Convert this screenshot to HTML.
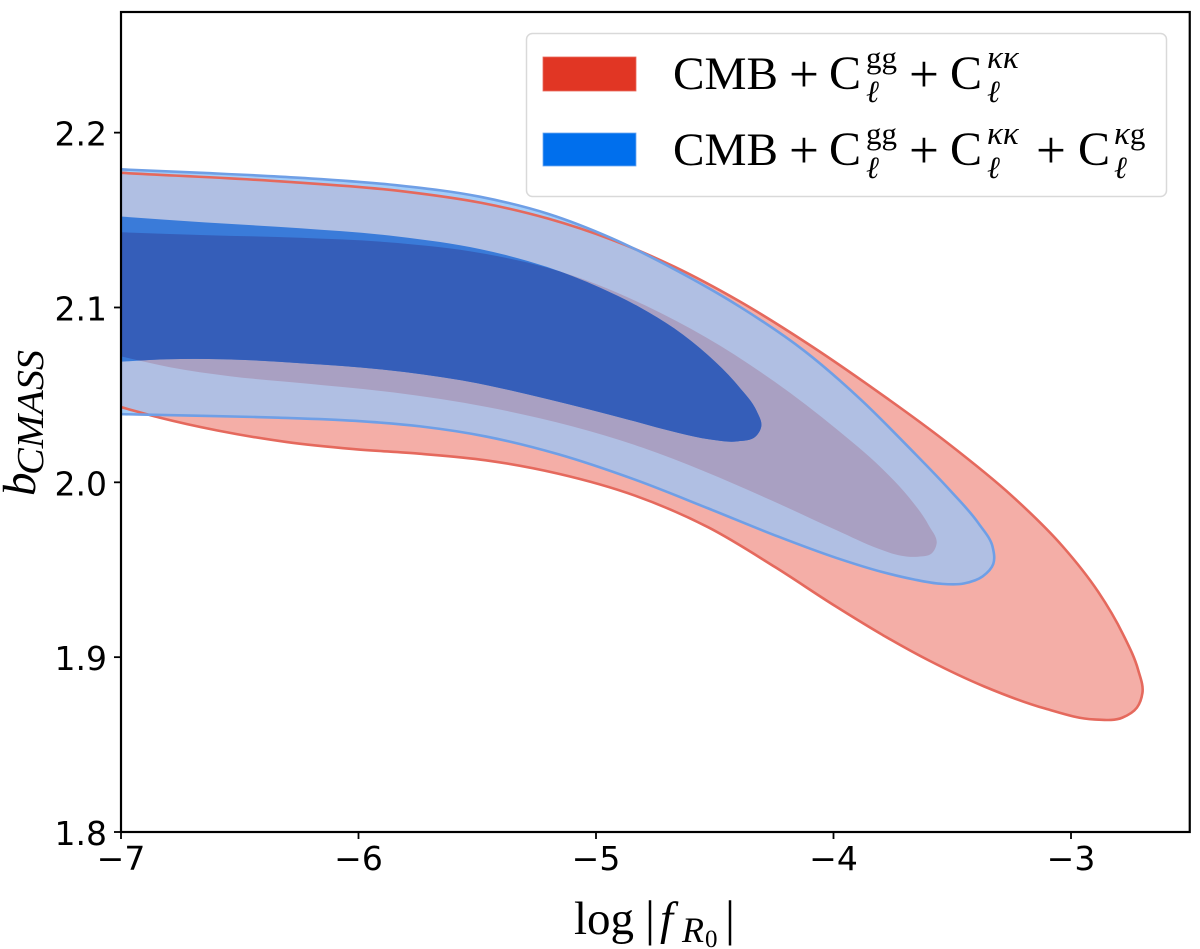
<!DOCTYPE html>
<html lang="en">
<head>
<meta charset="utf-8">
<title>Constraints on log f_R0 and b_CMASS</title>
<style>
  html, body { margin: 0; padding: 0; background: #fff; }
  svg { display: block; }
  .tick { font-family: "DejaVu Sans", "Liberation Sans", sans-serif; font-size: 33px; fill: #000; }
  .tex { font-family: "Liberation Serif", "DejaVu Serif", serif; fill: #000; }
  .it { font-style: italic; }
</style>
</head>
<body>
<svg id="chart" xmlns="http://www.w3.org/2000/svg" width="1200" height="949" viewBox="0 0 1200 949">
  <defs id="defs"></defs>
  <g id="contours"></g>
  <g id="axes"></g>

  <g>
    <rect x="526.5" y="33.5" width="640" height="163" rx="6" fill="#fff" fill-opacity="0.9" stroke="#d9d9d9" stroke-width="1.5"/>
    <rect x="543" y="57" width="93" height="34" fill="#e13624" stroke="#e86a5c" stroke-width="0.8"/>
    <rect x="543" y="133" width="93" height="33" fill="#006fed" stroke="#6fa8f0" stroke-width="0.8"/>

    <g class="tex">
      <text font-size="47" x="673" y="89" textLength="105" lengthAdjust="spacingAndGlyphs">CMB</text>
      <text font-size="53" x="789" y="92">+</text>
      <text font-size="48" x="829" y="89">C</text>
      <text font-size="31" x="866" y="68">gg</text>
      <text font-size="31" x="866" y="102" class="it">ℓ</text>
      <text font-size="53" x="909" y="92">+</text>
      <text font-size="48" x="950" y="89">C</text>
      <text font-size="33" x="987" y="68" class="it">κκ</text>
      <text font-size="31" x="987" y="102" class="it">ℓ</text>
    </g>
    <g class="tex">
      <text font-size="47" x="673" y="165" textLength="105" lengthAdjust="spacingAndGlyphs">CMB</text>
      <text font-size="53" x="789" y="168">+</text>
      <text font-size="48" x="829" y="165">C</text>
      <text font-size="31" x="866" y="144">gg</text>
      <text font-size="31" x="866" y="178" class="it">ℓ</text>
      <text font-size="53" x="909" y="168">+</text>
      <text font-size="48" x="950" y="165">C</text>
      <text font-size="33" x="987" y="144" class="it">κκ</text>
      <text font-size="31" x="987" y="178" class="it">ℓ</text>
      <text font-size="53" x="1036" y="168">+</text>
      <text font-size="48" x="1078" y="165">C</text>
      <text font-size="31" x="1114" y="144"><tspan class="it" font-size="33">κ</tspan>g</text>
      <text font-size="31" x="1114" y="178" class="it">ℓ</text>
    </g>
  </g>

  <g class="tex">
    <text font-size="47" x="574" y="934">log</text>
    <text font-size="50" x="645" y="935">|</text>
    <text font-size="47" x="660" y="934" class="it">f</text>
    <text font-size="36" x="682" y="942" class="it">R</text>
    <text font-size="25" x="705" y="947">0</text>
    <text font-size="50" x="725" y="935">|</text>
  </g>
  <g class="tex">
    <text font-size="47" class="it" transform="translate(35 496) rotate(-90)">b</text>
    <text font-size="38" class="it" textLength="125" lengthAdjust="spacingAndGlyphs" transform="translate(43 475) rotate(-90)">CMASS</text>
  </g>
</svg>

<script>
// Tick labels
const xTickValues = [-7, -6, -5, -4, -3];
const yTickValues = [1.8, 1.9, 2.0, 2.1, 2.2];
const xDomain = [-7, -2.5];
const yDomain = [1.8, 2.269];

// Red series (CMB + Cgg + Ckk), 2-sigma contour
const redOuterLogF = [-7, -6.246, -5.825, -5.488, -5.206, -4.928, -4.676, -4.394, -4.112, -3.834, -3.522, -3.244, -3.034, -2.891, -2.781, -2.718, -2.701, -2.722, -2.794, -2.891, -3.101, -3.383, -3.594, -3.804, -3.973, -4.255, -4.533, -4.815, -5.181, -5.459, -5.741, -6.023, -6.301, -6.583, -6.865, -7];
const redOuterBias = [2.177, 2.172, 2.166, 2.160, 2.151, 2.138, 2.124, 2.103, 2.080, 2.053, 2.023, 1.992, 1.963, 1.938, 1.914, 1.891, 1.881, 1.871, 1.866, 1.864, 1.870, 1.884, 1.898, 1.914, 1.927, 1.952, 1.975, 1.992, 2.005, 2.013, 2.016, 2.019, 2.023, 2.029, 2.038, 2.043];

// Red series, 1-sigma contour
const redInnerLogF = [-7, -6.667, -6.246, -5.825, -5.488, -5.206, -4.983, -4.815, -4.533, -4.255, -3.973, -3.804, -3.691, -3.594, -3.568, -3.585, -3.644, -3.733, -3.804, -3.973, -4.255, -4.562, -4.815, -5.067, -5.488, -5.825, -6.246, -6.528, -6.806, -7];
const redInnerBias = [2.143, 2.141, 2.140, 2.137, 2.131, 2.123, 2.112, 2.102, 2.083, 2.059, 2.028, 2.009, 1.993, 1.974, 1.965, 1.960, 1.957, 1.959, 1.962, 1.971, 1.990, 2.007, 2.020, 2.031, 2.044, 2.051, 2.057, 2.060, 2.066, 2.072];

// Blue series (CMB + Cgg + Ckk + Ckg), 2-sigma contour
const blueOuterLogF = [-7, -6.667, -6.246, -5.825, -5.488, -5.206, -4.928, -4.676, -4.394, -4.112, -3.901, -3.665, -3.522, -3.383, -3.333, -3.328, -3.371, -3.455, -3.552, -3.665, -3.804, -3.973, -4.255, -4.533, -4.815, -5.181, -5.459, -5.741, -6.023, -6.301, -6.722, -7];
const blueOuterBias = [2.179, 2.177, 2.174, 2.170, 2.163, 2.154, 2.139, 2.122, 2.100, 2.075, 2.049, 2.017, 1.997, 1.976, 1.963, 1.954, 1.946, 1.942, 1.942, 1.945, 1.949, 1.956, 1.970, 1.985, 2.001, 2.017, 2.026, 2.032, 2.035, 2.037, 2.038, 2.039];

// Blue series, 1-sigma contour
const blueInnerLogF = [-7, -6.667, -6.246, -5.825, -5.488, -5.206, -4.983, -4.815, -4.676, -4.533, -4.394, -4.322, -4.309, -4.331, -4.394, -4.533, -4.676, -4.815, -5.206, -5.627, -5.825, -6.246, -6.596, -6.794, -7];
const blueInnerBias = [2.152, 2.148, 2.146, 2.140, 2.134, 2.123, 2.111, 2.100, 2.088, 2.074, 2.054, 2.040, 2.033, 2.026, 2.023, 2.025, 2.029, 2.034, 2.048, 2.060, 2.063, 2.068, 2.071, 2.070, 2.069];

const NS = 'http://www.w3.org/2000/svg';
const plot = { left: 121, right: 1189.75, top: 12, bottom: 832 };

function xScale(v) {
  return plot.left + (v - xDomain[0]) / (xDomain[1] - xDomain[0]) * (plot.right - plot.left);
}
function yScale(v) {
  return plot.bottom - (v - yDomain[0]) / (yDomain[1] - yDomain[0]) * (plot.bottom - plot.top);
}

// One Laplacian relaxation step over screen points; endpoints stay fixed
function relax(p, k) {
  return p.map(function (pt, i) {
    if (i === 0 || i === p.length - 1) return pt;
    return [
      pt[0] + k * ((p[i - 1][0] + p[i + 1][0]) / 2 - pt[0]),
      pt[1] + k * ((p[i - 1][1] + p[i + 1][1]) / 2 - pt[1])
    ];
  });
}

// Smooth spline through the contour samples (Bessel tangents)
function smoothPath(xs, ys) {
  let p = xs.map(function (x, i) { return [xScale(x), yScale(ys[i])]; });
  for (let pass = 0; pass < 2; pass++) {
    p = relax(relax(p, 0.5), -0.52);
  }
  const n = p.length;
  const tangents = p.map(function (pt, i) {
    if (i === 0 || i === n - 1) {
      const q = i === 0 ? p[1] : p[n - 2];
      const sx = i === 0 ? q[0] - pt[0] : pt[0] - q[0];
      const sy = i === 0 ? q[1] - pt[1] : pt[1] - q[1];
      const l = Math.hypot(sx, sy) || 1;
      return [sx / l, sy / l];
    }
    const a = p[i - 1];
    const c = p[i + 1];
    const h1 = Math.hypot(pt[0] - a[0], pt[1] - a[1]) || 1;
    const h2 = Math.hypot(c[0] - pt[0], c[1] - pt[1]) || 1;
    const tx = (pt[0] - a[0]) / h1 * h2 + (c[0] - pt[0]) / h2 * h1;
    const ty = (pt[1] - a[1]) / h1 * h2 + (c[1] - pt[1]) / h2 * h1;
    const len = Math.hypot(tx, ty) || 1;
    return [tx / len, ty / len];
  });
  let d = 'M' + p[0][0].toFixed(2) + ' ' + p[0][1].toFixed(2);
  for (let i = 0; i < n - 1; i++) {
    const b = p[i];
    const c = p[i + 1];
    const h = Math.hypot(c[0] - b[0], c[1] - b[1]) / 3;
    const c1x = b[0] + tangents[i][0] * h;
    const c1y = b[1] + tangents[i][1] * h;
    const c2x = c[0] - tangents[i + 1][0] * h;
    const c2y = c[1] - tangents[i + 1][1] * h;
    d += 'C' + c1x.toFixed(2) + ' ' + c1y.toFixed(2) + ' ' + c2x.toFixed(2) + ' ' + c2y.toFixed(2) + ' ' + c[0].toFixed(2) + ' ' + c[1].toFixed(2);
  }
  return d;
}

const redOuterD = smoothPath(redOuterLogF, redOuterBias);
const redInnerD = smoothPath(redInnerLogF, redInnerBias);
const blueOuterD = smoothPath(blueOuterLogF, blueOuterBias);
const blueInnerD = smoothPath(blueInnerLogF, blueInnerBias);

const defs = document.getElementById('defs');
const layer = document.getElementById('contours');
const axes = document.getElementById('axes');

function addClip(id, d) {
  const cp = document.createElementNS(NS, 'clipPath');
  cp.setAttribute('id', id);
  const cpPath = document.createElementNS(NS, 'path');
  cpPath.setAttribute('d', d + 'Z');
  cp.appendChild(cpPath);
  defs.appendChild(cp);
}
addClip('clip-red-outer', redOuterD);
addClip('clip-red-inner', redInnerD);

// Filled regions, bottom to top
const el1 = document.createElementNS(NS, 'path');


el1.setAttribute('d', blueOuterD + 'Z');
el1.setAttribute('fill', '#a3cdf8');
layer.appendChild(el1);

const el2 = document.createElementNS(NS, 'path');


el2.setAttribute('d', redOuterD + 'Z');
el2.setAttribute('fill', '#f4aea7');
layer.appendChild(el2);

const el3 = document.createElementNS(NS, 'path');


el3.setAttribute('d', blueOuterD + 'Z');
el3.setAttribute('fill', '#b0bfe3');
el3.setAttribute('clip-path', 'url(#clip-red-outer)');
layer.appendChild(el3);

const el4 = document.createElementNS(NS, 'path');


el4.setAttribute('d', redInnerD + 'Z');
el4.setAttribute('fill', '#a9a0c2');
layer.appendChild(el4);

const el5 = document.createElementNS(NS, 'path');


el5.setAttribute('d', blueInnerD + 'Z');
el5.setAttribute('fill', '#3a7bd9');
layer.appendChild(el5);

const el6 = document.createElementNS(NS, 'path');


el6.setAttribute('d', blueInnerD + 'Z');
el6.setAttribute('fill', '#355eb9');
el6.setAttribute('clip-path', 'url(#clip-red-inner)');
layer.appendChild(el6);

const el7 = document.createElementNS(NS, 'path');


el7.setAttribute('d', redOuterD);
el7.setAttribute('fill', 'none');
el7.setAttribute('stroke', '#e5695d');
el7.setAttribute('stroke-width', '2.6');
layer.appendChild(el7);

const el8 = document.createElementNS(NS, 'path');


el8.setAttribute('d', blueOuterD);
el8.setAttribute('fill', 'none');
el8.setAttribute('stroke', '#6f9fe6');
el8.setAttribute('stroke-width', '2.6');
layer.appendChild(el8);

// Axes frame
const frame = document.createElementNS(NS, 'rect');


frame.setAttribute('x', plot.left);
frame.setAttribute('y', plot.top);
frame.setAttribute('width', plot.right - plot.left);
frame.setAttribute('height', plot.bottom - plot.top);
frame.setAttribute('fill', 'none');
frame.setAttribute('stroke', '#000');
frame.setAttribute('stroke-width', '2.2');
axes.appendChild(frame);

xTickValues.forEach(function (v) {
  const x = xScale(v);
  const tick = document.createElementNS(NS, 'line');
  
  
  tick.setAttribute('x1', x);
  tick.setAttribute('x2', x);
  tick.setAttribute('y1', plot.bottom);
  tick.setAttribute('y2', plot.bottom + 7);
  tick.setAttribute('stroke', '#000');
  tick.setAttribute('stroke-width', '1.8');
  axes.appendChild(tick);
  const label = document.createElementNS(NS, 'text');
  
  
  label.setAttribute('class', 'tick');
  label.setAttribute('x', x);
  label.setAttribute('y', plot.bottom + 38);
  label.setAttribute('text-anchor', 'middle');
  label.textContent = '\u2212' + Math.abs(v);
  axes.appendChild(label);
});

yTickValues.forEach(function (v) {
  const y = yScale(v);
  const tick = document.createElementNS(NS, 'line');
  
  
  tick.setAttribute('x1', plot.left - 7);
  tick.setAttribute('x2', plot.left);
  tick.setAttribute('y1', y);
  tick.setAttribute('y2', y);
  tick.setAttribute('stroke', '#000');
  tick.setAttribute('stroke-width', '1.8');
  axes.appendChild(tick);
  const label = document.createElementNS(NS, 'text');
  
  
  label.setAttribute('class', 'tick');
  label.setAttribute('x', plot.left - 14);
  label.setAttribute('y', y + 13);
  label.setAttribute('text-anchor', 'end');
  label.textContent = v.toFixed(1);
  axes.appendChild(label);
});
</script>
</body>
</html>
